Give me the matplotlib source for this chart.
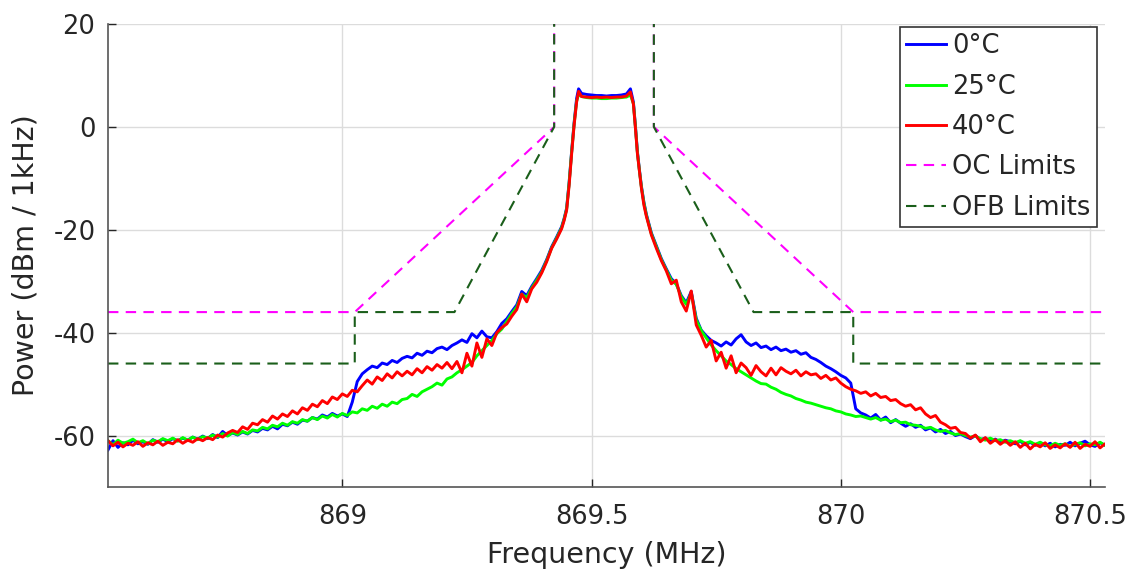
import matplotlib

matplotlib.use("Agg")
import matplotlib.pyplot as plt

NAN = float("nan")

# spectrum sample frequencies (MHz)
FREQ_MHZ = [
    868.53, 868.54, 868.55, 868.56, 868.57, 868.58, 868.59, 868.60, 868.61, 868.62,
    868.63, 868.64, 868.65, 868.66, 868.67, 868.68, 868.69, 868.70, 868.71, 868.72,
    868.73, 868.74, 868.75, 868.76, 868.77, 868.78, 868.79, 868.80, 868.81, 868.82,
    868.83, 868.84, 868.85, 868.86, 868.87, 868.88, 868.89, 868.90, 868.91, 868.92,
    868.93, 868.94, 868.95, 868.96, 868.97, 868.98, 868.99, 869.00, 869.01, 869.02,
    869.03, 869.04, 869.05, 869.06, 869.07, 869.08, 869.09, 869.10, 869.11, 869.12,
    869.13, 869.14, 869.15, 869.16, 869.17, 869.18, 869.19, 869.20, 869.21, 869.22,
    869.23, 869.24, 869.25, 869.26, 869.27, 869.28, 869.29, 869.30, 869.31, 869.32,
    869.33, 869.34, 869.35, 869.36, 869.37, 869.38, 869.39, 869.40, 869.41, 869.42,
    869.43, 869.44, 869.445, 869.45, 869.455, 869.46, 869.465, 869.47, 869.474, 869.48,
    869.49, 869.50, 869.51, 869.52, 869.53, 869.54, 869.55, 869.56, 869.57, 869.578,
    869.584, 869.588, 869.592, 869.596, 869.60, 869.605, 869.61, 869.62, 869.63, 869.64,
    869.65, 869.66, 869.67, 869.68, 869.69, 869.70, 869.71, 869.72, 869.73, 869.74,
    869.75, 869.76, 869.77, 869.78, 869.79, 869.80, 869.81, 869.82, 869.83, 869.84,
    869.85, 869.86, 869.87, 869.88, 869.89, 869.90, 869.91, 869.92, 869.93, 869.94,
    869.95, 869.96, 869.97, 869.98, 869.99, 870.00, 870.01, 870.02, 870.03, 870.04,
    870.05, 870.06, 870.07, 870.08, 870.09, 870.10, 870.11, 870.12, 870.13, 870.14,
    870.15, 870.16, 870.17, 870.18, 870.19, 870.20, 870.21, 870.22, 870.23, 870.24,
    870.25, 870.26, 870.27, 870.28, 870.29, 870.30, 870.31, 870.32, 870.33, 870.34,
    870.35, 870.36, 870.37, 870.38, 870.39, 870.40, 870.41, 870.42, 870.43, 870.44,
    870.45, 870.46, 870.47, 870.48, 870.49, 870.50, 870.51, 870.52, 870.53, 870.54,
]

POWER_0C = [
    -62.8, -61.0, -62.3, -61.4, -61.8, -60.9, -61.6, -61.2, -61.7, -60.8,
    -61.3, -60.7, -61.2, -60.6, -61.0, -60.5, -60.9, -60.3, -60.7, -60.1,
    -60.6, -59.8, -60.4, -59.2, -60.0, -59.5, -59.9, -59.3, -59.7, -59.0,
    -59.3, -58.6, -58.9, -58.2, -58.7, -57.8, -58.1, -57.4, -57.8, -57.0,
    -57.2, -56.5, -56.8, -56.0, -56.4, -55.7, -56.2, -55.8, -56.3, -53.5,
    -49.5, -48.0, -47.2, -46.5, -46.8, -45.9, -46.2, -45.4, -45.8, -45.0,
    -44.6, -44.9, -44.0, -44.4, -43.6, -43.9, -43.1, -42.8, -43.3, -42.5,
    -42.0, -41.4, -41.9, -40.2, -41.0, -39.7, -40.8, -41.0, -39.8, -38.2,
    -37.3, -35.9, -34.6, -32.0, -32.8, -31.0, -29.5, -27.9, -25.8, -23.3,
    -21.4, -19.4, -17.8, -15.8, -10.8, -4.8, 0.8, 5.5, 7.4, 6.5,
    6.3, 6.2, 6.1, 6.1, 6.0, 6.1, 6.1, 6.2, 6.4, 7.4,
    4.8, 0.2, -4.8, -8.3, -11.5, -14.6, -17.0, -20.6, -23.1, -25.6,
    -27.6, -29.5, -30.5, -32.8, -34.2, -32.0, -37.2, -39.5, -40.6, -41.5,
    -42.0, -42.6, -41.8, -42.4, -41.2, -40.4, -41.8, -42.5, -42.0, -42.9,
    -42.6, -43.3, -42.8, -43.5, -43.2, -43.8, -43.5, -44.2, -43.9, -44.8,
    -45.2, -45.8, -46.5, -47.0, -47.6, -48.3, -48.8, -49.8, -54.8, -55.6,
    -56.0, -56.6, -55.9, -57.0, -56.4, -57.5, -56.9, -57.6, -58.2, -57.7,
    -58.4, -58.0, -58.9, -58.5, -59.3, -58.8, -59.6, -59.2, -60.0, -59.7,
    -60.2, -60.6, -60.0, -60.8, -60.5, -61.1, -60.7, -61.3, -60.9, -61.2,
    -61.6, -61.1, -61.8, -61.3, -61.9, -61.4, -62.0, -61.5, -62.2, -61.7,
    -61.9, -61.3, -62.0, -61.5, -61.1, -61.8, -62.1, -61.4, -61.9, -61.6,
]

POWER_25C = [
    -61.0, -61.8, -60.9, -61.5, -61.2, -60.7, -61.4, -61.0, -61.6, -60.9,
    -61.2, -60.6, -61.0, -60.5, -61.1, -60.4, -60.9, -60.3, -60.8, -60.2,
    -60.5, -59.9, -60.3, -59.6, -60.1, -59.4, -59.8, -59.2, -59.6, -58.9,
    -59.1, -58.4, -58.7, -58.0, -58.3, -57.6, -58.0, -57.3, -57.6, -56.9,
    -57.2, -56.5, -56.9, -56.2, -56.6, -55.9, -56.4, -55.7, -56.1, -55.4,
    -55.6, -54.8, -55.1, -54.3, -54.7, -53.9, -54.3, -53.5, -53.8, -53.0,
    -52.8, -52.0, -52.4, -51.5, -51.0, -50.5, -49.8, -50.2, -49.0, -48.6,
    -47.8, -47.2, -46.5, -45.8, -44.5, -43.5, -42.5, -41.5, -40.2, -39.3,
    -37.8, -36.3, -35.0, -32.5, -33.2, -31.3, -29.8, -28.2, -26.0, -23.5,
    -21.6, -19.6, -18.0, -16.0, -11.0, -5.0, 0.5, 5.0, 6.3, 5.9,
    5.7, 5.6, 5.6, 5.5, 5.5, 5.6, 5.6, 5.7, 5.8, 6.2,
    4.5, 0.0, -5.0, -8.5, -11.7, -14.8, -17.2, -20.8, -23.3, -25.8,
    -27.8, -29.8, -30.6, -33.0, -34.5, -32.3, -37.5, -39.6, -41.0, -42.4,
    -43.5, -44.5, -45.5, -46.2, -47.0, -47.6, -48.2, -48.8, -49.4, -49.9,
    -50.0, -50.6, -51.0, -51.6, -52.0, -52.3, -52.8, -53.1, -53.5, -53.7,
    -54.0, -54.3, -54.6, -54.8, -55.2, -55.4, -55.8, -56.0, -56.3, -56.2,
    -56.5, -56.8, -56.5, -57.0, -56.8, -57.3, -57.0, -57.5, -57.4, -57.9,
    -58.0, -58.2, -58.6, -58.4, -58.9, -59.2, -59.0, -59.5, -59.8, -59.6,
    -60.0, -60.3, -60.1, -60.6, -60.9, -60.5, -61.0, -60.8, -61.3, -61.0,
    -61.4, -61.0, -61.5, -61.2, -61.7, -61.3, -61.8, -62.0, -61.5, -61.9,
    -61.6, -62.1, -61.7, -61.4, -62.0, -61.6, -61.8, -61.3, -61.9, -61.5,
]

POWER_40C = [
    -61.0, -62.0, -61.3, -62.2, -61.5, -61.9, -61.2, -62.1, -61.4, -61.8,
    -61.1, -61.9, -61.3, -61.6, -60.8, -61.5, -60.9, -61.3, -60.6, -61.0,
    -60.4, -60.8, -59.9, -60.3, -59.5, -59.0, -59.4, -58.3, -58.8, -57.6,
    -57.9, -56.9, -57.4, -56.2, -56.8, -55.8, -56.3, -55.2, -55.8, -54.6,
    -55.1, -53.9, -54.4, -53.2, -53.8, -52.5, -53.0, -51.9, -52.4, -51.2,
    -51.5, -50.3, -49.2, -50.0, -48.6, -49.3, -48.0, -48.8, -47.6, -48.4,
    -47.5, -48.2, -47.0, -47.8, -46.6, -47.3, -46.2, -46.9, -45.8, -47.0,
    -45.6, -47.8, -44.0, -46.5, -42.0, -44.8, -41.2, -42.5, -40.0, -39.0,
    -38.3, -36.8, -35.5, -32.5, -34.0, -31.5, -30.2, -28.4, -26.2, -23.6,
    -21.8, -19.8, -18.2, -16.2, -11.4, -5.3, 0.3, 4.8, 6.9, 5.9,
    5.8, 5.7, 5.8, 5.7, 5.8, 5.7, 5.8, 5.8, 6.0, 6.8,
    4.4, -0.2, -5.2, -8.6, -11.9, -15.2, -17.4, -21.0, -23.6, -26.0,
    -28.0, -30.5, -29.8, -34.0, -35.8, -31.9, -38.5, -40.5, -42.8, -41.5,
    -45.5, -43.8, -46.9, -44.5, -47.8, -45.9, -46.8, -48.3, -46.4, -47.6,
    -48.4, -46.9, -48.2, -46.8, -47.5, -48.0, -47.3, -48.4, -47.6, -48.2,
    -48.0, -48.9, -48.3, -49.2, -48.8, -49.8, -50.5, -51.0, -51.3, -51.8,
    -51.5, -52.3, -51.8, -52.6, -52.4, -53.2, -53.0, -53.8, -54.3, -54.0,
    -55.0, -54.6, -55.8, -56.5, -56.1, -57.4, -57.9, -58.6, -58.4, -59.4,
    -59.6, -60.5, -59.9, -61.2, -60.4, -61.5, -60.8, -61.7, -61.0, -61.9,
    -61.2, -62.3, -61.5, -62.6, -61.7, -62.2, -61.4, -62.5, -61.8, -62.4,
    -61.6, -62.3, -61.3, -62.5, -61.7, -62.1, -61.2, -62.4, -61.6, -62.2,
]

# spectral masks: left half, gap, right half
OC_FREQ = [868.53, 869.025, 869.425, 869.425, NAN, 869.625, 869.625, 870.025, 870.53]
OC_POWER = [-36, -36, 0, 25, NAN, 25, 0, -36, -36]
OFB_FREQ = [868.53, 869.025, 869.025, 869.225, 869.425, 869.425, NAN,
            869.625, 869.625, 869.825, 870.025, 870.025, 870.53]
OFB_POWER = [-46, -46, -36, -36, 0, 25, NAN, 25, 0, -36, -36, -46, -46]

X_TICKS = [869, 869.5, 870, 870.5]
X_TICK_LABELS = ["869", "869.5", "870", "870.5"]
Y_TICKS = [-60, -40, -20, 0, 20]

TEXT = "#262626"


def main() -> None:
    plt.rcParams["font.family"] = "DejaVu Sans"
    plt.rcParams["axes.unicode_minus"] = False
    fig = plt.figure(figsize=(11.31, 5.74), dpi=100)
    ax = fig.add_axes([108 / 1131, 87 / 574, 997 / 1131, 463 / 574])

    ax.plot(FREQ_MHZ, POWER_0C, color="#0000ff", linewidth=2.1, label="0°C")
    ax.plot(FREQ_MHZ, POWER_25C, color="#00ff00", linewidth=2.1, label="25°C")
    ax.plot(FREQ_MHZ, POWER_40C, color="#ff0000", linewidth=2.1, label="40°C")
    ax.plot(OC_FREQ, OC_POWER, color="#ff00ff", linewidth=1.5,
            linestyle=(0, (5, 3.5)), label="OC Limits")
    ax.plot(OFB_FREQ, OFB_POWER, color="#1a5e1a", linewidth=1.5,
            linestyle=(0, (5, 3.5)), label="OFB Limits")

    ax.set_xlim(868.53, 870.53)
    ax.set_ylim(-70, 20)
    ax.set_xticks(X_TICKS)
    ax.set_xticklabels(X_TICK_LABELS)
    ax.set_yticks(Y_TICKS)
    ax.tick_params(direction="in", length=6, width=1, colors=TEXT,
                   labelsize=18.5, pad=9)
    ax.tick_params(axis="x", pad=12)
    ax.grid(color="#dcdcdc", linewidth=1)
    ax.set_axisbelow(True)
    for side in ("top", "right"):
        ax.spines[side].set_visible(False)
    for side in ("left", "bottom"):
        ax.spines[side].set_color("#555555")
        ax.spines[side].set_linewidth(1.2)

    ax.set_xlabel("Frequency (MHz)", fontsize=20.5, color=TEXT, labelpad=8)
    ax.set_ylabel("Power (dBm / 1kHz)", fontsize=20.5, color=TEXT, labelpad=10)

    leg = ax.legend(loc="upper right", bbox_to_anchor=(0.992, 0.994),
                    borderaxespad=0, fontsize=18.5, handlelength=1.55,
                    handletextpad=0.25, labelspacing=0.56, borderpad=0.25,
                    fancybox=False, framealpha=1)
    leg.get_frame().set_edgecolor("#333333")
    leg.get_frame().set_linewidth(1.2)
    for text in leg.get_texts():
        text.set_color(TEXT)

    fig.savefig("out.png", dpi=100)
    plt.close(fig)


if __name__ == "__main__":
    main()
